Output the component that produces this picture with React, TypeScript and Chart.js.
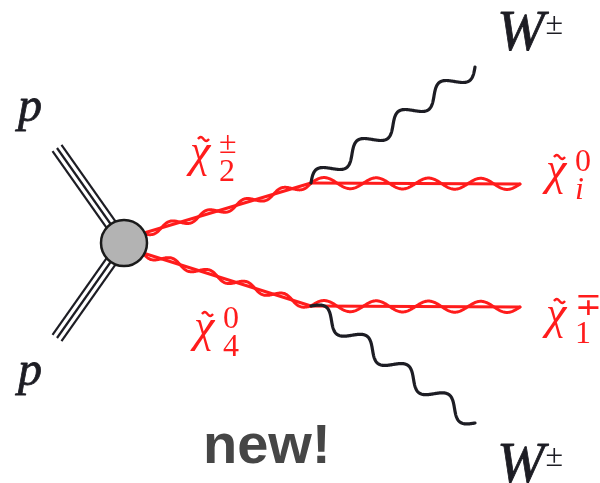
import React, { useEffect, useRef } from 'react';
import { Chart, registerables } from 'chart.js';
Chart.register(...registerables);

// Diagram vertices (coordinates in a 600 x 483 frame, y downwards)
const beamStartX = [57, 57];
const beamStartY = [148, 338];
const blobX = [124];
const blobY = [243];
const decayX = [311, 311];
const decayY = [183, 306];
const wEndX = [475, 475];
const wEndY = [67, 423];
const lspEndX = [520, 520];
const lspEndY = [184, 307];

// Particle labels: p, W (black) and charginos / neutralinos (red)
const labelBase = ['p', 'p', 'W', 'W', 'χ', 'χ', 'χ', 'χ'];
const labelSup = ['', '', '±', '±', '±', '0', '0', '∓'];
const labelSub = ['', '', '', '', '2', '4', 'i', '1'];
const labelX = [18, 18, 497, 497, 191, 195, 547, 547];
const labelTop = [98, 362, 12, 444, 145, 320, 163, 307];
const labelRed = [false, false, false, false, true, true, true, true];
const noteText = 'new!';
const noteX = [203];
const noteY = [463];

const RED = 'rgb(255,28,28)';
const BLACK = '#1d1d24';

function wave(ctx: CanvasRenderingContext2D, x0: number, y0: number, x1: number, y1: number, amp: number, cycles: number, sign: number) {
  const dx = x1 - x0, dy = y1 - y0;
  const L = Math.hypot(dx, dy);
  const nx = -dy / L, ny = dx / L;
  const N = 300;
  ctx.beginPath();
  for (let i = 0; i <= N; i++) {
    const t = i / N;
    const s = Math.sin(2 * Math.PI * cycles * t) * amp * sign;
    const px = x0 + dx * t + nx * s;
    const py = y0 + dy * t + ny * s;
    if (i === 0) ctx.moveTo(px, py); else ctx.lineTo(px, py);
  }
  ctx.stroke();
}

function heavyText(ctx: CanvasRenderingContext2D, t: string, x: number, y: number, w: number) {
  ctx.fillText(t, x, y);
  if (w > 0) {
    ctx.lineWidth = w;
    ctx.strokeText(t, x, y);
  }
}

const diagramPlugin = {
  id: 'diagram',
  beforeDatasetsDraw(chart: any) {
    const ctx: CanvasRenderingContext2D = chart.ctx;
    ctx.save();
    ctx.lineCap = 'round';
    ctx.lineJoin = 'round';
    const order = ['triple', 'gaugino', 'gauginoFlat', 'boson'];
    for (const kind of order) {
      chart.data.datasets.forEach((ds: any, i: number) => {
        if (ds.kind !== kind) return;
        const pts = chart.getDatasetMeta(i).data;
        for (let k = 0; k + 1 < pts.length; k += 2) {
          const a = pts[k], b = pts[k + 1];
          if (kind === 'triple') {
            const dx = b.x - a.x, dy = b.y - a.y;
            const L = Math.hypot(dx, dy);
            const nx = -dy / L, ny = dx / L;
            ctx.strokeStyle = BLACK;
            ctx.lineWidth = 2.2;
            ctx.lineCap = 'butt';
            for (const off of [-5.5, 0, 5.5]) {
              ctx.beginPath();
              ctx.moveTo(a.x + nx * off, a.y + ny * off);
              ctx.lineTo(b.x + nx * off, b.y + ny * off);
              ctx.stroke();
            }
            ctx.lineCap = 'round';
          } else if (kind === 'gaugino' || kind === 'gauginoFlat') {
            ctx.strokeStyle = RED;
            ctx.lineWidth = 3;
            ctx.beginPath();
            ctx.moveTo(a.x, a.y);
            ctx.lineTo(b.x, b.y);
            ctx.stroke();
            if (kind === 'gaugino') wave(ctx, a.x, a.y, b.x, b.y, 3.8, 5, -1);
            else wave(ctx, a.x, a.y, b.x, b.y, 5.5, 4, -1);
          } else if (kind === 'boson') {
            ctx.strokeStyle = BLACK;
            ctx.lineWidth = 3.2;
            wave(ctx, a.x, a.y, b.x, b.y, 8, 4, -1);
          }
        }
      });
    }
    ctx.restore();
  },
  afterDatasetsDraw(chart: any) {
    const ctx: CanvasRenderingContext2D = chart.ctx;
    const xs = chart.scales.x, ys = chart.scales.y;
    ctx.save();
    ctx.textBaseline = 'alphabetic';
    ctx.lineJoin = 'round';
    labelBase.forEach((txt, i) => {
      const x = xs.getPixelForValue(labelX[i]);
      const top = ys.getPixelForValue(labelTop[i]);
      const col = labelRed[i] ? RED : BLACK;
      ctx.fillStyle = col;
      ctx.strokeStyle = col;
      if (txt === 'χ') {
        ctx.font = 'italic 46px "Liberation Serif"';
        const m = ctx.measureText(txt);
        const base = top + m.actualBoundingBoxAscent;
        heavyText(ctx, txt, x - 1, base, 0);
        // tilde accent
        ctx.lineWidth = 2.4;
        ctx.beginPath();
        for (let k = 0; k <= 20; k++) {
          const t = k / 20;
          const px = x + 7 + t * 11;
          const py = top - 6 - Math.sin(t * 2 * Math.PI) * 2;
          if (k === 0) ctx.moveTo(px, py); else ctx.lineTo(px, py);
        }
        ctx.stroke();
        const sx = x + 28;
        ctx.font = '32px "Liberation Serif"';
        heavyText(ctx, labelSup[i], sx, top + 8, 0);
        ctx.font = (labelSub[i] === 'i' ? 'italic ' : '') + '32px "Liberation Serif"';
        heavyText(ctx, labelSub[i], sx, top + 36, 0);
      } else {
        const size = txt === 'p' ? 48 : 57;
        ctx.font = `italic ${size}px "Liberation Serif"`;
        const m = ctx.measureText(txt);
        const base = top + m.actualBoundingBoxAscent;
        heavyText(ctx, txt, x, base, 0.8);
        if (labelSup[i]) {
          ctx.font = '32px "Liberation Serif"';
          heavyText(ctx, labelSup[i], x + m.width + 1, base - 16, 0);
        }
      }
    });
    ctx.fillStyle = '#464646';
    ctx.font = 'bold 56px "Liberation Sans"';
    ctx.fillText(noteText, xs.getPixelForValue(noteX[0]), ys.getPixelForValue(noteY[0]));
    ctx.restore();
  },
};

function pairs(ax: number[], ay: number[], bx: number[], by: number[]) {
  const out: { x: number; y: number }[] = [];
  for (let i = 0; i < ax.length; i++) {
    out.push({ x: ax[i], y: ay[i] });
    out.push({ x: bx[i], y: by[i] });
  }
  return out;
}

export default function App() {
  const ref = useRef<HTMLCanvasElement>(null);
  useEffect(() => {
    if (!ref.current) return;
    const hidden = { pointRadius: 0, showLine: false, borderWidth: 0 };
    const chart = new Chart(ref.current, {
      type: 'scatter',
      data: {
        datasets: [
          { ...hidden, kind: 'triple', data: pairs(beamStartX, beamStartY, [blobX[0], blobX[0]], [blobY[0], blobY[0]]) } as any,
          { ...hidden, kind: 'gaugino', data: pairs([blobX[0], blobX[0]], [blobY[0] - 4, blobY[0] + 4], decayX, decayY) } as any,
          { ...hidden, kind: 'gauginoFlat', data: pairs(decayX, decayY, lspEndX, lspEndY) } as any,
          { ...hidden, kind: 'boson', data: pairs(decayX, decayY, wEndX, wEndY) } as any,
          {
            data: [{ x: blobX[0], y: blobY[0] }],
            pointRadius: 23,
            pointBackgroundColor: '#b3b3b3',
            pointBorderColor: '#1a1a1a',
            pointBorderWidth: 2.5,
          } as any,
        ],
      },
      options: {
        animation: false,
        responsive: true,
        maintainAspectRatio: false,
        layout: { padding: 0, autoPadding: false },
        plugins: { legend: { display: false }, tooltip: { enabled: false } },
        scales: {
          x: { type: 'linear', min: 0, max: 600, display: false },
          y: { type: 'linear', min: 0, max: 483, reverse: true, display: false },
        },
      },
      plugins: [diagramPlugin],
    });
    return () => chart.destroy();
  }, []);
  return (
    <div style={{ position: 'absolute', left: 0, top: 0, width: 600, height: 483, background: '#fff' }}>
      <canvas ref={ref} />
    </div>
  );
}
